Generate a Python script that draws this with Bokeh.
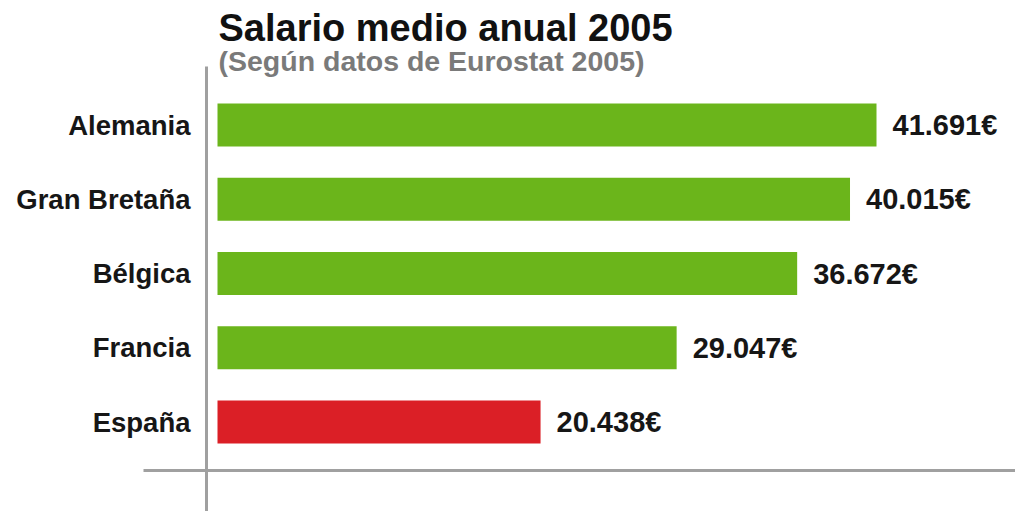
from bokeh.plotting import figure
from bokeh.models import ColumnDataSource, Range1d, Label
from bokeh.core.properties import value
from bokeh.embed import file_html
from bokeh.resources import INLINE

# ---- data ----
countries = ["España", "Francia", "Bélgica", "Gran Bretaña", "Alemania"]
salaries = [20438, 29047, 36672, 40015, 41691]
bar_colors = ["#db1f26", "#6bb51b", "#6bb51b", "#6bb51b", "#6bb51b"]
title_text = "Salario medio anual 2005"
subtitle_text = "(Según datos de Eurostat 2005)"

labels = [f"{v:,}".replace(",", ".") + "€" for v in salaries]
idx = list(range(len(countries)))

FONT_NAME = "Liberation Sans"
FONT = value(FONT_NAME)

W, H = 1015, 511
# scale: px per unit
px_per_unit = 659 / 41691.0
x_start = -217 / px_per_unit
x_end = x_start + W / px_per_unit
row_px = 74.25
y_start = 0 - (H - 421.5) / row_px
y_end = y_start + H / row_px

p = figure(width=W, height=H, x_range=Range1d(x_start, x_end),
           y_range=Range1d(y_start, y_end), x_axis_location=None,
           y_axis_location=None, toolbar_location=None, output_backend="svg",
           min_border=0, outline_line_color=None)
p.grid.visible = False
p.background_fill_color = "white"
p.border_fill_color = "white"

src = ColumnDataSource(dict(y=idx, country=countries, v=salaries,
                            color=bar_colors, label=labels,
                            lx=[s + 16 / px_per_unit for s in salaries]))

# hand-drawn style axes
ax_x = 206 / px_per_unit + x_start
p.segment(x0=[ax_x], y0=[y_end - 66 / row_px], x1=[ax_x], y1=[y_start - 1],
          line_color="#a0a0a0", line_width=3)
hy = y_end - 470 / row_px
p.segment(x0=[x_start + 143 / px_per_unit], y0=[hy], x1=[x_end + 100], y1=[hy],
          line_color="#a0a0a0", line_width=3)

p.hbar(y="y", left=0, right="v", height=0.58, fill_color="color",
       line_color=None, source=src)

# category labels
cat_x = x_start + 190 / px_per_unit
p.text(x=cat_x, y="y", text="country", source=src, text_align="right",
       text_baseline="middle", text_font=FONT, text_font_style="bold",
       text_font_size="27.5px", text_color="#161616")

# value labels
p.text(x="lx", y="y", text="label", source=src, text_align="left",
       text_baseline="middle", text_font=FONT, text_font_style="bold",
       text_font_size="29px", text_color="#161616")

p.add_layout(Label(x=218, y=484, x_units="screen", y_units="screen",
                   text=title_text, text_font=FONT_NAME, text_font_style="bold",
                   text_font_size="38px", text_color="#111111",
                   text_baseline="alphabetic"))
p.add_layout(Label(x=218, y=451, x_units="screen", y_units="screen",
                   text=subtitle_text, text_font=FONT_NAME, text_font_style="bold",
                   text_font_size="28.5px", text_color="#7a7a7a",
                   text_baseline="alphabetic"))

open("out.html", "w").write(file_html(p, INLINE))
